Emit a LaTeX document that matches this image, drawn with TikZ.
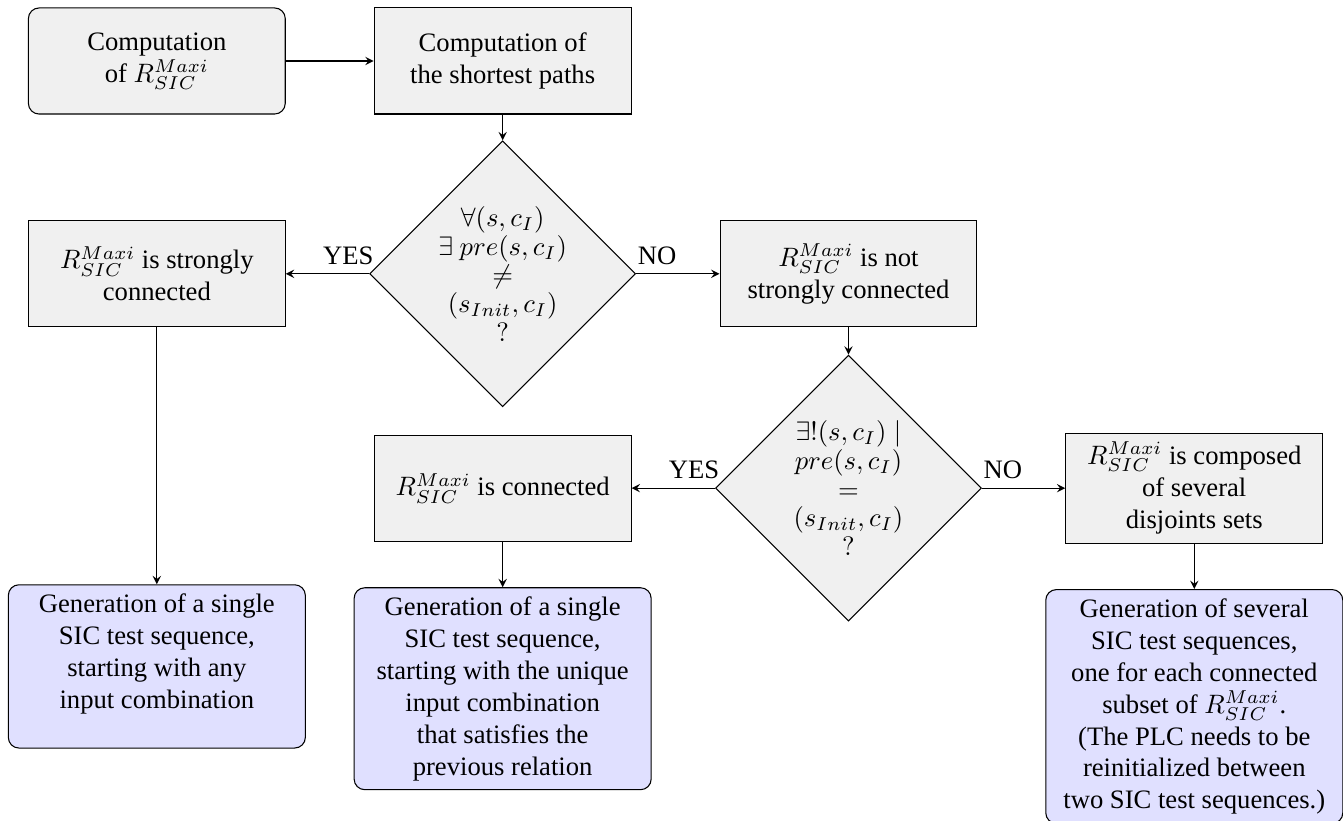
\documentclass[tikz,border=0pt]{standalone}
\usepackage{amsmath, amssymb}
\usepackage{fontspec}
\setmainfont{Liberation Serif}
\usepackage{xcolor}
\usepackage{tikz}
\usetikzlibrary{positioning, arrows, shapes, shapes.geometric}

\begin{document}
\begin{tikzpicture}[node distance=1.1cm and 1.16cm]
        \tikzstyle{block} = [rectangle, draw, fill=gray!12, align=center, minimum width=3.39cm, minimum height=1.4cm]
        \tikzstyle{rblock} = [block, rounded corners]
        \tikzstyle{cond} = [diamond, draw, fill=gray!12, align=center, inner sep=0pt, minimum width=3.51cm, minimum height=3.51cm, font=\fontsize{10}{10.8}\selectfont]
        \tikzstyle{result} = [rectangle, draw, fill=blue!12, align=center, minimum width=3.92cm, rounded corners]
        \tikzstyle{arrow} = [->,>=stealth]

        \useasboundingbox (-2.07,0.805) rectangle (15.655,-10.03);

        \node [rblock] (maxi) {Computation\\ of $R_{SIC}^{Maxi}$};
        \node [block, right=1.16cm of maxi] (paths) {Computation of\\ the shortest paths};
        \node [cond, below=0.34cm of paths] (q1) {$\forall (s,c_I)$\\ $\exists\ pre(s,c_I)$\\ $\neq$\\ $(s_{Init},c_I)$\\ $?$};
        \node [block, left=1.1cm of q1] (strong) {$R_{SIC}^{Maxi}$ is strongly\\ connected};
        \node [block, right=1.1cm of q1] (notstrong) {$R_{SIC}^{Maxi}$ is not\\ strongly connected};
        \node [cond, below=0.36cm of notstrong] (q2) {$\exists!(s,c_I)\mid$\\ $pre(s,c_I)$\\ $=$\\ $(s_{Init},c_I)$\\ $?$};
        \node [block, left=1.1cm of q2] (conn) {$R_{SIC}^{Maxi}$ is connected};
        \node [block, right=1.1cm of q2] (compo) {$R_{SIC}^{Maxi}$ is composed\\ of several\\ disjoints sets};

        \node [result, below=3.39cm of strong] (gen1) {Generation of a single\\ SIC test sequence,\\ starting with any\\ input combination\\[-4pt]\strut};
        \node [result, below=0.6cm of conn] (gen2) {Generation of a single\\ SIC test sequence,\\ starting with the unique\\ input combination\\ that satisfies the\\ previous relation};
        \node [result, below=0.6cm of compo] (gen3) {Generation of several\\ SIC test sequences,\\ one for each connected\\ subset of $R_{SIC}^{Maxi}$.\\ (The PLC needs to be\\ reinitialized between\\ two SIC test sequences.)};

        \draw [arrow] (maxi) -- (paths);
        \draw [arrow] (paths) -- (q1);
        \draw [arrow] (q1) -- node [above, near start] {YES} (strong);
        \draw [arrow] (q1) -- node [above, near start] {NO} (notstrong);
        \draw [arrow] (strong) -- (gen1);
        \draw [arrow] (notstrong) -- (q2);
        \draw [arrow] (q2) -- node [above, near start] {YES} (conn);
        \draw [arrow] (q2) -- node [above, near start] {NO} (compo);
        \draw [arrow] (conn) -- (gen2);
        \draw [arrow] (compo) -- (gen3);
    \end{tikzpicture}
\end{document}
